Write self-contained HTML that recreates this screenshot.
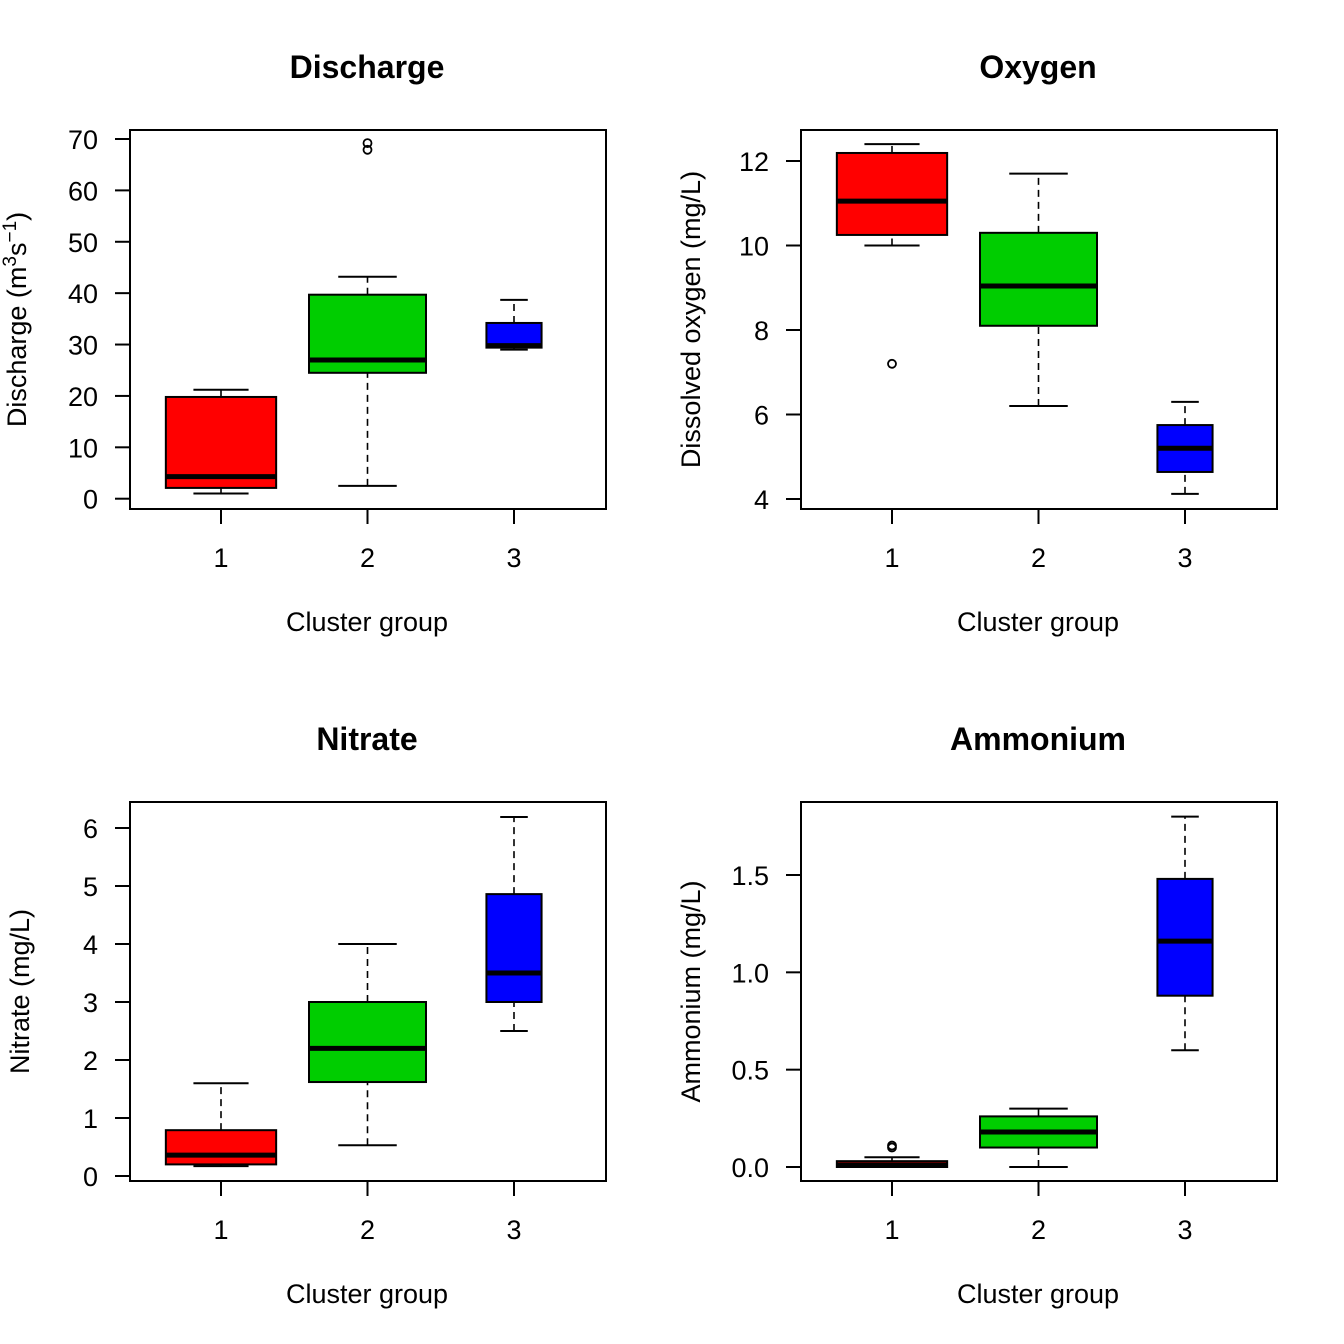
<!DOCTYPE html>
<html><head><meta charset="utf-8"><style>
html,body{margin:0;padding:0;background:#fff;}
svg{display:block;font-family:"Liberation Sans",Arial,sans-serif;}
</style></head><body>
<svg id="chart" width="1344" height="1344" viewBox="0 0 1344 1344"></svg>
<script>
const groups = ["1","2","3"];
const groupN = [8, 9, 2];
const colors = ["#FF0000","#00CD00","#0000FF"];
// Discharge stats: [low whisker, Q1, median, Q3, high whisker]
const dischargeStats = [[1,2.1,4.3,19.8,21.2],[2.5,24.5,27,39.7,43.2],[29,29.4,29.8,34.2,38.7]];
const dischargeOut = [[],[69.2,67.9],[]];
const dischargeTicks = [0,10,20,30,40,50,60,70];
const oxygenStats = [[10,10.25,11.05,12.19,12.4],[6.2,8.1,9.04,10.3,11.7],[4.12,4.64,5.2,5.75,6.3]];
const oxygenOut = [[7.2],[],[]];
const oxygenTicks = [4,6,8,10,12];
const nitrateStats = [[0.17,0.2,0.36,0.79,1.6],[0.53,1.62,2.2,3.0,4.0],[2.5,3.0,3.5,4.86,6.19]];
const nitrateOut = [[],[],[]];
const nitrateTicks = [0,1,2,3,4,5,6];
const nitrateTickLabels = ["0","1","2","3","4","5","6"];
const ammoniumStats = [[0,0.0,0.01,0.03,0.05],[0,0.10,0.18,0.26,0.30],[0.6,0.88,1.16,1.48,1.8]];
const ammoniumOut = [[0.11,0.10],[],[]];
const ammoniumTicks = [0,0.5,1,1.5];
const ammoniumTickLabels = ["0.0","0.5","1.0","1.5"];

const NS="http://www.w3.org/2000/svg";
const svg=document.getElementById('chart');
function mk(tag,attrs,parent){const e=document.createElementNS(NS,tag);for(const k in attrs)e.setAttribute(k,attrs[k]);(parent||svg).appendChild(e);return e;}

const panels=[
 {key:"discharge",title:"Discharge",x0:130,y0:130,stats:dischargeStats,out:dischargeOut,ticks:dischargeTicks,labels:dischargeTicks.map(String),dmin:0,dmax:70,pmin:498.7,pmax:139,ylab:null,ylx:26},
 {key:"oxygen",title:"Oxygen",x0:801,y0:130,stats:oxygenStats,out:oxygenOut,ticks:oxygenTicks,labels:oxygenTicks.map(String),dmin:4,dmax:12,pmin:499,pmax:161,ylab:"Dissolved oxygen (mg/L)",ylx:700},
 {key:"nitrate",title:"Nitrate",x0:130,y0:802,stats:nitrateStats,out:nitrateOut,ticks:nitrateTicks,labels:nitrateTickLabels,dmin:0,dmax:6,pmin:1176,pmax:828,ylab:"Nitrate (mg/L)",ylx:29},
 {key:"ammonium",title:"Ammonium",x0:801,y0:802,stats:ammoniumStats,out:ammoniumOut,ticks:ammoniumTicks,labels:ammoniumTickLabels,dmin:0,dmax:1.5,pmin:1167,pmax:875,ylab:"Ammonium (mg/L)",ylx:700}
];

panels.forEach(p=>{
  const g=mk('g',{});
  
  
  const W=476,H=379;
  const y=v=>p.pmin+(v-p.dmin)*(p.pmax-p.pmin)/(p.dmax-p.dmin);
  const x=i=>p.x0+91+i*146.5;
  const t=mk('text',{x:p.x0+237,y:p.y0-52,'text-anchor':'middle','font-size':32,'font-weight':'bold'},g);
  t.textContent=p.title;
  
  
  p.ticks.forEach((v,i)=>{
    const l=mk('line',{x1:p.x0-15,x2:p.x0,y1:y(v),y2:y(v),stroke:'#000','stroke-width':2},g);
    
    
    const tl=mk('text',{x:p.x0-32,y:y(v)+10,'text-anchor':'end','font-size':27},g);
    tl.textContent=p.labels[i];
    
    
  });
  groups.forEach((gname,i)=>{
    const l=mk('line',{x1:x(i),x2:x(i),y1:p.y0+H,y2:p.y0+H+15,stroke:'#000','stroke-width':2},g);
    
    
    const tl=mk('text',{x:x(i),y:p.y0+437,'text-anchor':'middle','font-size':27},g);
    tl.textContent=gname;
    
    
  });
  const xl=mk('text',{x:p.x0+237,y:p.y0+501,'text-anchor':'middle','font-size':27},g);
  xl.textContent="Cluster group";
  
  
  const cy=p.y0+H/2;
  const yl=mk('text',{x:p.ylx,y:cy,'text-anchor':'middle','font-size':27,transform:`rotate(-90 ${p.ylx} ${cy})`},g);
  if(p.ylab){yl.textContent=p.ylab;}
  else{
    yl.appendChild(document.createTextNode("Discharge (m"));
    const s1=mk('tspan',{dy:-10,'font-size':19},yl);s1.textContent="3";
    const s2=mk('tspan',{dy:10},yl);s2.textContent="s";
    const s3=mk('tspan',{dy:-10,'font-size':19},yl);s3.textContent="\u22121";
    const s4=mk('tspan',{dy:10},yl);s4.textContent=")";
  }
  
  
  p.stats.forEach((s,i)=>{
    const bw=117*Math.sqrt(groupN[i])/Math.sqrt(9);
    const cx=x(i);
    const bg=mk('g',{},g);
    
    
    mk('line',{x1:cx,x2:cx,y1:y(s[0]),y2:y(s[1]),stroke:'#000','stroke-width':1.6,'stroke-dasharray':'7,5'},bg);
    mk('line',{x1:cx,x2:cx,y1:y(s[3]),y2:y(s[4]),stroke:'#000','stroke-width':1.6,'stroke-dasharray':'7,5'},bg);
    mk('line',{x1:cx-bw/4,x2:cx+bw/4,y1:y(s[0]),y2:y(s[0]),stroke:'#000','stroke-width':2},bg);
    mk('line',{x1:cx-bw/4,x2:cx+bw/4,y1:y(s[4]),y2:y(s[4]),stroke:'#000','stroke-width':2},bg);
    mk('rect',{x:cx-bw/2,y:y(s[3]),width:bw,height:Math.max(y(s[1])-y(s[3]),1),fill:colors[i],stroke:'#000','stroke-width':2},bg);
    mk('line',{x1:cx-bw/2,x2:cx+bw/2,y1:y(s[2]),y2:y(s[2]),stroke:'#000','stroke-width':5},bg);
    p.out[i].forEach(o=>{
      const c=mk('circle',{cx:cx,cy:y(o),r:4,fill:'none',stroke:'#000','stroke-width':1.8},bg);
      
      
    });
  });
  const fr=mk('rect',{x:p.x0,y:p.y0,width:W,height:H,fill:'none',stroke:'#000','stroke-width':2},g);
  
  
});
</script>
</body></html>
